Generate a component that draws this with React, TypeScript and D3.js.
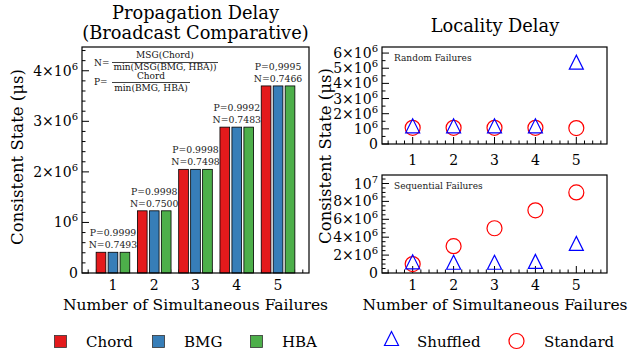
import { scaleLinear, range } from "d3";

const failures = [1, 2, 3, 4, 5];
const chord = [0.41e6, 1.23e6, 2.05e6, 2.885e6, 3.7e6];
const bmg = [0.41e6, 1.23e6, 2.05e6, 2.885e6, 3.7e6];
const hba = [0.41e6, 1.23e6, 2.05e6, 2.885e6, 3.7e6];
const pLabels = ["0.9999", "0.9998", "0.9998", "0.9992", "0,9995"];
const nLabels = ["0.7493", "0.7500", "0.7498", "0.7483", "0.7466"];

const randomShuffled = [1.2e6, 1.2e6, 1.2e6, 1.2e6, 5.4e6];
const randomStandard = [1.07e6, 1.07e6, 1.07e6, 1.07e6, 1.05e6];
const seqShuffled = [1.25e6, 1.2e6, 1.2e6, 1.3e6, 3.3e6];
const seqStandard = [1e6, 3e6, 5e6, 7e6, 9e6];

const leftTicks = [0, 1e6, 2e6, 3e6, 4e6];
const topTicks = [0, 1e6, 2e6, 3e6, 4e6, 5e6, 6e6];
const bottomTicks = [0, 2e6, 4e6, 6e6, 8e6, 10e6];

const FONT = "DejaVu Serif";
const COLORS = { chord: "#e41a1c", bmg: "#377eb8", hba: "#4daf4a" };

function T(props: any) {
  return <text fontFamily={FONT} {...props} />;
}

function TickLabel({ v, x, y }: { v: number; x: number; y: number }) {
  const m = v / 1e6;
  let body: any;
  if (v === 0) body = "0";
  else if (m === 1) body = (<>10<tspan dy={-6} fontSize={10}>6</tspan></>);
  else if (m === 10) body = (<>10<tspan dy={-6} fontSize={10}>7</tspan></>);
  else body = (<>{m}×10<tspan dy={-6} fontSize={10}>6</tspan></>);
  return (
    <T x={x} y={y + 5} textAnchor="end" fontSize={14}>
      {body}
    </T>
  );
}

function Frame({ x0, x1, y0, y1, yMax, ticks, minorStep, xLabelY }: any) {
  const sx = scaleLinear().domain([0.25, 5.75]).range([x0, x1]);
  const sy = scaleLinear().domain([0, yMax]).range([y1, y0]);
  const minorX = range(0.4, 5.61, 0.2).filter((d) => Math.abs(d - Math.round(d)) > 0.05);
  const minorY = range(0, yMax, minorStep).filter((d) => !ticks.includes(Math.round(d)));
  return (
    <g>
      {minorX.map((d) => (
        <line key={"mx" + d} x1={sx(d)} x2={sx(d)} y1={y1} y2={y1 - 3.5} stroke="#000" strokeWidth={1} />
      ))}
      {failures.map((d) => (
        <g key={"Mx" + d}>
          <line x1={sx(d)} x2={sx(d)} y1={y1} y2={y1 - 7} stroke="#000" strokeWidth={1} />
          <T x={sx(d)} y={xLabelY} textAnchor="middle" fontSize={14}>{d}</T>
        </g>
      ))}
      {minorY.map((d) => (
        <line key={"my" + d} x1={x0} x2={x0 + 3.5} y1={sy(d)} y2={sy(d)} stroke="#000" strokeWidth={1} />
      ))}
      {ticks.map((d: number) => (
        <g key={"My" + d}>
          <line x1={x0} x2={x0 + 7} y1={sy(d)} y2={sy(d)} stroke="#000" strokeWidth={1} />
          <TickLabel v={d} x={x0 - 4} y={sy(d)} />
        </g>
      ))}
    </g>
  );
}

function Triangle({ cx, cy, s = 7 }: { cx: number; cy: number; s?: number }) {
  return (
    <path
      d={`M${cx},${cy - s} L${cx - s},${cy + s} L${cx + s},${cy + s} Z`}
      fill="none"
      stroke="blue"
      strokeWidth={1.2}
    />
  );
}

function Scatter({ x0, x1, y0, y1, yMax, shuffled, standard }: any) {
  const sx = scaleLinear().domain([0.25, 5.75]).range([x0, x1]);
  const sy = scaleLinear().domain([0, yMax]).range([y1, y0]);
  return (
    <g>
      {failures.map((d, i) => (
        <circle key={"c" + d} cx={sx(d)} cy={sy(standard[i])} r={7.5} fill="none" stroke="red" strokeWidth={1.2} />
      ))}
      {failures.map((d, i) => (
        <Triangle key={"t" + d} cx={sx(d)} cy={sy(shuffled[i])} />
      ))}
    </g>
  );
}

export default function App() {
  // left bar chart
  const L = { x0: 82, x1: 309, y0: 47, y1: 273 };
  const lx = scaleLinear().domain([0.25, 5.75]).range([L.x0, L.x1]);
  const ly = scaleLinear().domain([0, 4.47e6]).range([L.y1, L.y0]);
  const unit = lx(1) - lx(0);
  const bw = 0.235 * unit;
  const series = [
    { vals: chord, color: COLORS.chord, off: -0.29 },
    { vals: bmg, color: COLORS.bmg, off: 0 },
    { vals: hba, color: COLORS.hba, off: 0.29 },
  ];

  const TP = { x0: 382, x1: 607, y0: 47, y1: 144 };
  const BP = { x0: 382, x1: 607, y0: 175, y1: 273 };

  return (
    <svg width={637} height={356} style={{ position: "absolute", left: 0, top: 0 }}>
      <rect width={637} height={356} fill="#fff" />

      {/* Left titles */}
      <T x={195.5} y={19} textAnchor="middle" fontSize={17.8}>Propagation Delay</T>
      <T x={195.5} y={39} textAnchor="middle" fontSize={17.8}>(Broadcast Comparative)</T>
      <T transform="translate(23,157) rotate(-90)" textAnchor="middle" fontSize={16.5}>Consistent State (μs)</T>
      <T x={195.5} y={310} textAnchor="middle" fontSize={15.5}>Number of Simultaneous Failures</T>

      <Frame x0={L.x0} x1={L.x1} y0={L.y0} y1={L.y1} yMax={4.47e6} ticks={leftTicks} minorStep={0.2e6} xLabelY={290} />

      {series.map((s, si) =>
        failures.map((d, i) => (
          <rect
            key={`b${si}-${d}`}
            x={lx(d + s.off) - bw / 2}
            y={ly(s.vals[i])}
            width={bw}
            height={L.y1 - ly(s.vals[i])}
            fill={s.color}
            stroke="#000"
            strokeWidth={0.8}
          />
        ))
      )}
      {failures.map((d, i) => {
        const top = ly(Math.max(chord[i], bmg[i], hba[i]));
        return (
          <g key={"lab" + d} fill="#222">
            <T x={lx(d)} y={top - 16} textAnchor="middle" fontSize={9.3}>P={pLabels[i]}</T>
            <T x={lx(d)} y={top - 4} textAnchor="middle" fontSize={9.3}>N={nLabels[i]}</T>
          </g>
        );
      })}

      {/* formula */}
      <g fill="#111">
        <T x={94} y={66} fontSize={9}>N=</T>
        <T x={165} y={58} textAnchor="middle" fontSize={9}>MSG(Chord)</T>
        <line x1={112} x2={218} y1={62.5} y2={62.5} stroke="#111" strokeWidth={0.8} />
        <T x={165} y={70} textAnchor="middle" fontSize={9}>min(MSG(BMG, HBA))</T>
        <T x={94} y={85} fontSize={9}>P=</T>
        <T x={151} y={79} textAnchor="middle" fontSize={9}>Chord</T>
        <line x1={112} x2={190} y1={82.5} y2={82.5} stroke="#111" strokeWidth={0.8} />
        <T x={151} y={91} textAnchor="middle" fontSize={9}>min(BMG, HBA)</T>
      </g>

      <rect x={L.x0} y={L.y0} width={L.x1 - L.x0} height={L.y1 - L.y0} fill="none" stroke="#000" strokeWidth={1.2} />

      {/* Right */}
      <T x={495} y={32} textAnchor="middle" fontSize={17.8}>Locality Delay</T>
      <T transform="translate(331,156) rotate(-90)" textAnchor="middle" fontSize={16.5}>Consistent State (μs)</T>
      <T x={495} y={310} textAnchor="middle" fontSize={15.5}>Number of Simultaneous Failures</T>

      <Frame x0={TP.x0} x1={TP.x1} y0={TP.y0} y1={TP.y1} yMax={6.4e6} ticks={topTicks} minorStep={0.5e6} xLabelY={165} />
      <Scatter {...TP} yMax={6.4e6} shuffled={randomShuffled} standard={randomStandard} />
      <T x={394} y={61} fontSize={9} fill="#222">Random Failures</T>
      <rect x={TP.x0} y={TP.y0} width={TP.x1 - TP.x0} height={TP.y1 - TP.y0} fill="none" stroke="#000" strokeWidth={1.2} />

      <Frame x0={BP.x0} x1={BP.x1} y0={BP.y0} y1={BP.y1} yMax={10.95e6} ticks={bottomTicks} minorStep={0.5e6} xLabelY={290} />
      <Scatter {...BP} yMax={10.95e6} shuffled={seqShuffled} standard={seqStandard} />
      <T x={394} y={189} fontSize={9} fill="#222">Sequential Failures</T>
      <rect x={BP.x0} y={BP.y0} width={BP.x1 - BP.x0} height={BP.y1 - BP.y0} fill="none" stroke="#000" strokeWidth={1.2} />

      {/* Legends */}
      <g>
        <rect x={54.5} y={335.5} width={12} height={12} fill={COLORS.chord} stroke="#333" strokeWidth={0.8} />
        <T x={86} y={347} fontSize={15}>Chord</T>
        <rect x={152.5} y={335.5} width={12} height={12} fill={COLORS.bmg} stroke="#333" strokeWidth={0.8} />
        <T x={184} y={347} fontSize={15}>BMG</T>
        <rect x={250.5} y={335.5} width={12} height={12} fill={COLORS.hba} stroke="#333" strokeWidth={0.8} />
        <T x={282} y={347} fontSize={15}>HBA</T>
        <Triangle cx={391.5} cy={338.5} s={7} />
        <T x={417} y={347} fontSize={15}>Shuffled</T>
        <circle cx={516.5} cy={341} r={7.5} fill="none" stroke="red" strokeWidth={1.2} />
        <T x={544} y={347} fontSize={15}>Standard</T>
      </g>
    </svg>
  );
}
